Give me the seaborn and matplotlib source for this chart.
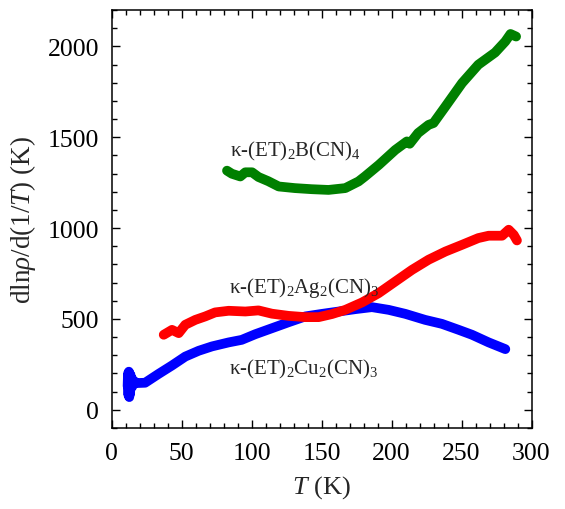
import matplotlib
matplotlib.use("Agg")
import matplotlib.pyplot as plt
import seaborn as sns
import pandas as pd
from matplotlib.ticker import MultipleLocator

# kappa-(ET)2Cu2(CN)3 (blue)
t_cu = [11.5, 11.8, 12.1, 12.4, 12.7, 13.0, 13.3, 13.7, 14.0, 14.5, 15, 16, 17, 24, 33.7, 43.2, 52.7, 62.3,
        71.8, 83.7, 93, 102.7, 114.6, 126.5, 138.5, 150.4, 162.3, 174.2, 186, 198,
        209.9, 224, 236, 248, 257.5, 269.4, 281.3]
y_cu = [130, 200, 80, 210, 70, 200, 90, 190, 120, 170, 130, 160, 147, 149, 198, 244, 293, 325,
        349, 371, 385, 416, 449, 482, 514, 528, 541, 554, 565, 550,
        528, 495, 473, 440, 413, 371, 334]

# kappa-(ET)2Ag2(CN)3 (red)
t_ag = [37.3, 43.2, 48, 52.7, 59.9, 67, 74, 83.7, 95.6, 105, 114.6, 126.5, 138.5, 148, 157.5, 167,
        179, 190.8, 202.7, 214.6, 226.5, 238.5, 250.4, 262, 269.4, 279, 283.7, 287.3, 289.6]
y_ag = [413, 440, 422, 468, 495, 514, 536, 545, 541, 547, 529, 517, 510, 510, 527, 550,
        591, 642, 706, 770, 826, 871, 908, 945, 958, 958, 991, 963, 932]

# kappa-(ET)2B(CN)4 (green)
t_b = [82.5, 86, 92, 95.6, 100.4, 105, 112, 119.4, 131, 143, 155, 167, 176.5, 181, 191, 202.7,
       211, 213, 219, 226.5, 230, 238.5, 250.4, 262, 274, 281.3, 285, 289]
y_b = [1316, 1299, 1284, 1307, 1307, 1281, 1258, 1229, 1220, 1214, 1210, 1220, 1257, 1284, 1348, 1430,
       1477, 1464, 1523, 1568, 1578, 1669, 1798, 1899, 1966, 2027, 2068, 2054]

labels = ["κ-(ET)$_2$Cu$_2$(CN)$_3$",
          "κ-(ET)$_2$Ag$_2$(CN)$_3$",
          "κ-(ET)$_2$B(CN)$_4$"]
colors = ["#0000ff", "#ff0000", "#008000"]
label_pos = [(84, 202), (84, 651), (84.6, 1400)]

sns.set_style("ticks")
plt.rcParams["font.family"] = ["Liberation Serif", "DejaVu Serif"]
plt.rcParams["mathtext.fontset"] = "custom"
plt.rcParams["mathtext.rm"] = "Liberation Serif"
plt.rcParams["mathtext.it"] = "Liberation Serif:italic"

fig = plt.figure(figsize=(5.65, 5.10), dpi=100)
ax = fig.add_axes([111.5 / 565, 1 - 429 / 510, 420 / 565, 418 / 510])

series = [(t_cu, y_cu), (t_ag, y_ag), (t_b, y_b)]
for (t, y), c in zip(series, colors):
    df = pd.DataFrame({"T": t, "v": y})
    sns.lineplot(data=df, x="T", y="v", ax=ax, color=c, lw=7,
                 solid_capstyle="round", solid_joinstyle="round", sort=False)

for lab, (x, y) in zip(labels, label_pos):
    ax.text(x, y, lab, fontsize=15, va="baseline", ha="left")

ax.set_xlim(0, 300)
ax.set_ylim(-100, 2200)
ax.xaxis.set_major_locator(MultipleLocator(50))
ax.xaxis.set_minor_locator(MultipleLocator(10))
ax.yaxis.set_major_locator(MultipleLocator(500))
ax.yaxis.set_minor_locator(MultipleLocator(100))
ax.tick_params(which="both", direction="in", top=True, right=True, width=1.0, labelsize=18.5, colors="black")
ax.tick_params(axis="x", pad=10)
ax.tick_params(axis="y", pad=9)
ax.tick_params(which="major", length=6)
ax.tick_params(which="minor", length=3.6)
for s in ax.spines.values():
    s.set_linewidth(1.1)
    s.set_color("black")

ax.set_xlabel(r"$T$ (K)", fontsize=19, labelpad=7)
ax.set_ylabel(r"dln$\rho$/d(1/$T$) (K)", fontsize=19.5, labelpad=7)

fig.savefig("out.png", dpi=100)
